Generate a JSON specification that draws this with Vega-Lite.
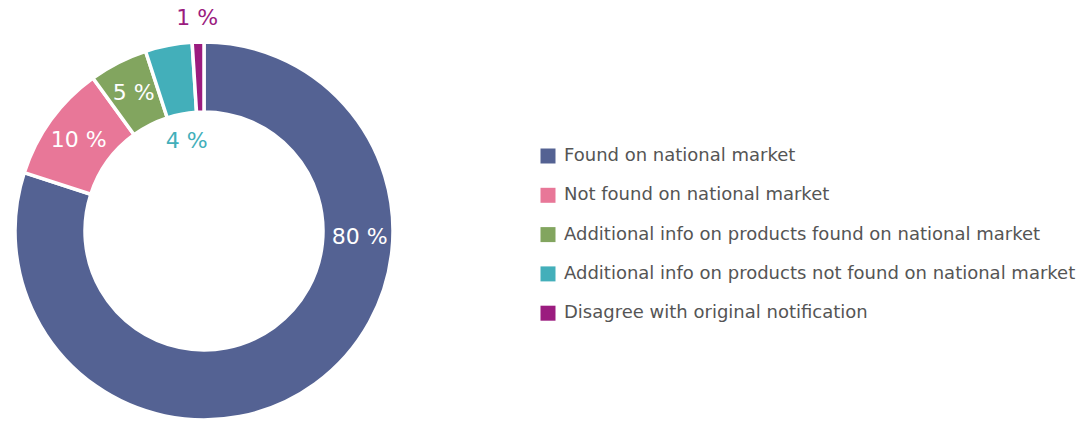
{
  "$schema": "https://vega.github.io/schema/vega-lite/v6.json",
  "autosize": "none",
  "width": 408,
  "height": 462,
  "padding": {"left": 0, "top": 0, "right": 682, "bottom": 0},
  "background": "white",
  "config": {"view": {"stroke": null}, "font": "DejaVu Sans"},
  "data": {
    "values": [
      {"cat": "Found on national market", "value": 80, "label": "80 %", "idx": 1},
      {"cat": "Not found on national market", "value": 10, "label": "10 %", "idx": 2},
      {"cat": "Additional info on products found on national market", "value": 5, "label": "5 %", "idx": 3},
      {"cat": "Additional info on products not found on national market", "value": 4, "label": "4 %", "idx": 4},
      {"cat": "Disagree with original notification", "value": 1, "label": "1 %", "idx": 5}
    ]
  },
  "encoding": {
    "theta": {"field": "value", "type": "quantitative", "stack": true},
    "order": {"field": "idx", "type": "quantitative"}
  },
  "layer": [
    {
      "mark": {"type": "arc", "outerRadius": 189, "innerRadius": 119, "stroke": "white", "strokeWidth": 3.5},
      "encoding": {
        "color": {
          "field": "cat",
          "type": "nominal",
          "sort": null,
          "scale": {
            "domain": ["Found on national market", "Not found on national market", "Additional info on products found on national market", "Additional info on products not found on national market", "Disagree with original notification"],
            "range": ["#546293", "#E87798", "#82A55F", "#43AFBA", "#9B1C7F"]
          },
          "legend": {
            "title": null,
            "orient": "none",
            "legendX": 539,
            "legendY": 147,
            "symbolType": "square",
            "symbolSize": 225,
            "symbolStrokeWidth": 0,
            "labelFontSize": 18,
            "labelColor": "#555555",
            "labelFont": "DejaVu Sans",
            "labelLimit": 600,
            "labelOffset": 7,
            "rowPadding": 21.3
          }
        }
      }
    },
    {
      "mark": {"type": "text", "radius": 155, "fill": "white", "fontSize": 22, "baseline": "middle", "align": "center"},
      "encoding": {
        "text": {"condition": {"test": "datum.value == 10 || datum.value == 5", "field": "label"}, "value": ""}
      }
    },
    {
      "mark": {"type": "text", "radius": 92, "fill": "#43AFBA", "fontSize": 22, "baseline": "middle", "align": "center"},
      "encoding": {
        "text": {"condition": {"test": "datum.value == 4", "field": "label"}, "value": ""}
      }
    },
    {
      "mark": {"type": "text", "radius": 213, "fill": "#9B1C7F", "fontSize": 22, "baseline": "middle", "align": "center"},
      "encoding": {
        "text": {"condition": {"test": "datum.value == 1", "field": "label"}, "value": ""}
      }
    },
    {
      "mark": {"type": "text", "radius": 156, "fill": "white", "fontSize": 22, "baseline": "middle", "align": "center", "dx": 64, "dy": -120},
      "encoding": {
        "text": {"condition": {"test": "datum.value == 80", "field": "label"}, "value": ""}
      }
    }
  ]
}
